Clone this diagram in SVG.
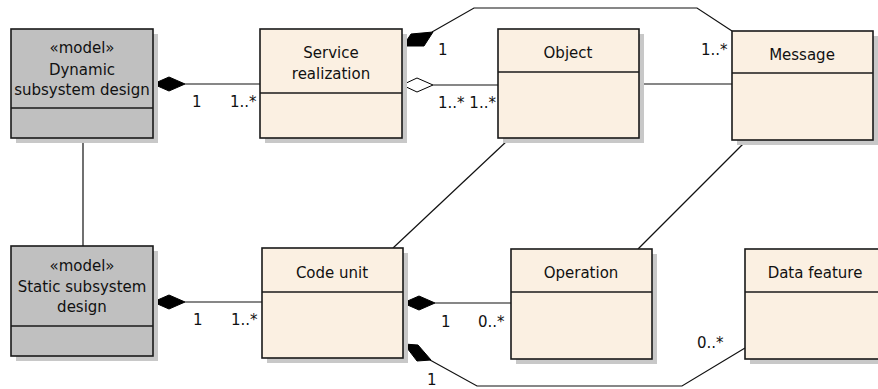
<svg xmlns="http://www.w3.org/2000/svg" width="878" height="389" viewBox="0 0 878 389">
<style>
.shadow{fill:#c8c8c8}
.box{stroke:#1a1a1a;stroke-width:1.6}
.model{fill:#c0c0c0}
.cls{fill:#fbf0e2}
.div{stroke:#1a1a1a;stroke-width:1.6}
text{font-family:"DejaVu Sans","Liberation Sans",sans-serif;font-size:15px;fill:#111}
.c{text-anchor:middle}
.conn line,.conn polyline{stroke:#111;stroke-width:1.2;fill:none}
.fd{fill:#000;stroke:#000;stroke-width:1}
.hd{fill:#fff;stroke:#000;stroke-width:1}
</style>
<rect width="878" height="389" fill="#fff"/>
<g id="conn" class="conn">
<line x1="185" y1="84" x2="260" y2="84"/>
<line x1="185" y1="302" x2="262" y2="302"/>
<line x1="433" y1="85" x2="498" y2="85"/>
<line x1="639" y1="84" x2="732" y2="84"/>
<line x1="83" y1="138" x2="83" y2="246"/>
<line x1="508" y1="140" x2="393" y2="248"/>
<line x1="745" y1="142" x2="638" y2="249"/>
<line x1="435" y1="303" x2="511" y2="303"/>
<polyline points="432,32 474,8 697,8 732,31"/>
<polyline points="430,360 477,386 682,386 745,348"/>
<polygon class="fd" points="153,84 169,77 185,84 169,91"/>
<polygon class="fd" points="153,302 169,295 185,302 169,309"/>
<polygon class="fd" points="403,303 419,296 435,303 419,310"/>
<polygon class="hd" points="402,85 417,78 433,85 417,92"/>
<polygon class="fd" points="403,46 411,34 433,32 424,46"/>
<polygon class="fd" points="404,344 418,345 431,360 417,361"/>
<text x="192" y="107">1</text>
<text x="230" y="107">1..*</text>
<text x="193" y="325">1</text>
<text x="231" y="325">1..*</text>
<text x="438" y="108">1..* 1..*</text>
<text x="438" y="55">1</text>
<text x="701" y="55">1..*</text>
<text x="441" y="327">1</text>
<text x="478" y="327">0..*</text>
<text x="427" y="385">1</text>
<text x="697" y="348">0..*</text>
</g>
<g id="dynamic">
<rect class="shadow" x="16" y="34" width="142" height="109"/>
<rect class="box model" x="11" y="29" width="142" height="109"/>
<line class="div" x1="11" y1="108" x2="153" y2="108"/>
<text class="c" x="82" y="53">«model»</text>
<text class="c" x="82" y="75">Dynamic</text>
<text class="c" x="82" y="95">subsystem design</text>
</g>
<g id="static">
<rect class="shadow" x="16" y="251" width="142" height="110"/>
<rect class="box model" x="11" y="246" width="142" height="110"/>
<line class="div" x1="11" y1="326" x2="153" y2="326"/>
<text class="c" x="82" y="271">«model»</text>
<text class="c" x="82" y="292">Static subsystem</text>
<text class="c" x="82" y="312">design</text>
</g>
<g id="service">
<rect class="shadow" x="265" y="34" width="142" height="109"/>
<rect class="box cls" x="260" y="29" width="142" height="109"/>
<line class="div" x1="260" y1="93" x2="402" y2="93"/>
<text class="c" x="331" y="58">Service</text>
<text class="c" x="331" y="79">realization</text>
</g>
<g id="object">
<rect class="shadow" x="503" y="34" width="141" height="109"/>
<rect class="box cls" x="498" y="29" width="141" height="109"/>
<line class="div" x1="498" y1="72" x2="639" y2="72"/>
<text class="c" x="568" y="58">Object</text>
</g>
<g id="message">
<rect class="shadow" x="737" y="36" width="141" height="109"/>
<rect class="box cls" x="732" y="31" width="141" height="109"/>
<line class="div" x1="732" y1="73" x2="873" y2="73"/>
<text class="c" x="802" y="60">Message</text>
</g>
<g id="codeunit">
<rect class="shadow" x="267" y="253" width="141" height="110"/>
<rect class="box cls" x="262" y="248" width="141" height="110"/>
<line class="div" x1="262" y1="292" x2="403" y2="292"/>
<text class="c" x="332" y="278">Code unit</text>
</g>
<g id="operation">
<rect class="shadow" x="516" y="254" width="141" height="110"/>
<rect class="box cls" x="511" y="249" width="141" height="110"/>
<line class="div" x1="511" y1="292" x2="652" y2="292"/>
<text class="c" x="581" y="278">Operation</text>
</g>
<g id="datafeature">
<rect class="shadow" x="750" y="254" width="141" height="110"/>
<rect class="box cls" x="745" y="249" width="141" height="110"/>
<line class="div" x1="745" y1="292" x2="886" y2="292"/>
<text class="c" x="815" y="278">Data feature</text>
</g>
</svg>
